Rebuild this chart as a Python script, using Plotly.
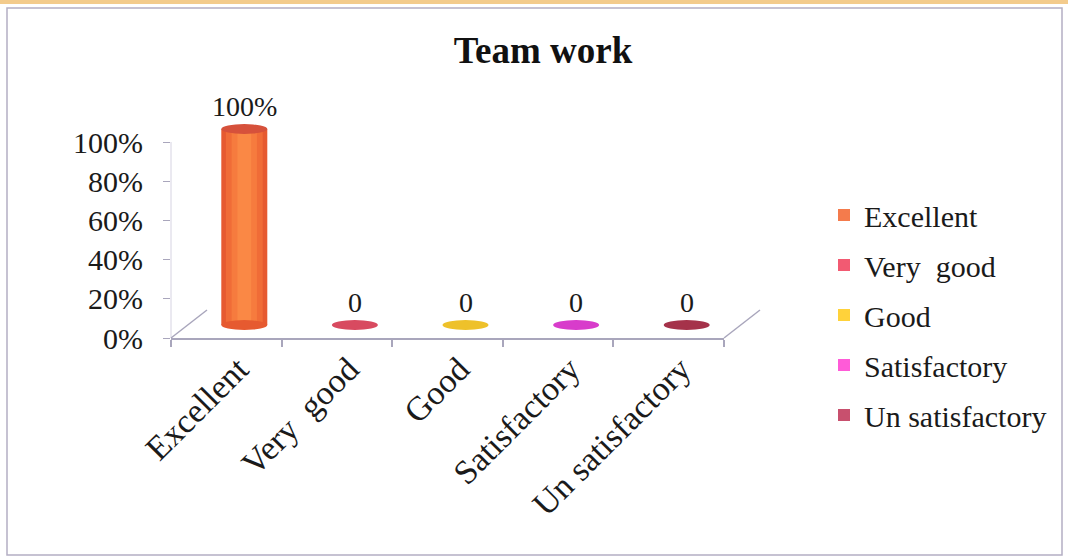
import plotly.graph_objects as go

# ---------------- data ----------------
categories = ["Excellent", "Very\u00a0 good", "Good", "Satisfactory", "Un satisfactory"]
values = [1.0, 0, 0, 0, 0]
value_labels = ["100%", "0", "0", "0", "0"]
y_ticks = [0, 0.2, 0.4, 0.6, 0.8, 1.0]
legend_colors = ["#F47B4C", "#F25A72", "#FFD23A", "#FF5BD8", "#C8506E"]
cap_colors = ["#D6513B", "#D84A60", "#EEC12A", "#D83CCB", "#A5324A"]
body_base = "#E65A30"
body_layers = [(0.80, "#F06C37"), (0.55, "#F67B3E"), (0.30, "#FA8845")]
title_text = "Team work"

# ---------------- geometry (pixels) ----------------
W, H = 1068, 557
X0, X1 = 171, 724          # front floor line
Y0, Y1 = 338, 100          # plot bottom (0%) and top
UNIT = 196                 # pixels per 100%
DX, DY = 18, 13            # half-depth offset for the cylinders
FDX, FDY = 36, 28          # full depth offset for floor diagonals
PAD = 0.06                 # extra range below zero on the depth axes (keeps ellipses unclipped)
BAR_W = 0.416
SERIF = "Liberation Serif"
AX = "#A9A6BC"

fig = go.Figure()

# invisible trace on the main (front) axes so they are drawn
fig.add_trace(go.Scatter(x=categories, y=values, mode="markers",
                         marker=dict(opacity=0), showlegend=False, hoverinfo="skip"))

# cylinder bodies: base layer
for i, cat in enumerate(categories):
    fig.add_trace(go.Bar(
        x=[cat], y=[values[i]], xaxis="x2", yaxis="y2", width=BAR_W,
        marker=dict(color=body_base if i == 0 else legend_colors[i], line=dict(width=0)),
        name=cat, showlegend=False, hoverinfo="skip",
    ))
# shading layers
for frac, col in body_layers:
    fig.add_trace(go.Bar(
        x=categories, y=values, xaxis="x2", yaxis="y2", width=BAR_W * frac,
        marker=dict(color=col, line=dict(width=0)), showlegend=False, hoverinfo="skip",
    ))
# legend entries
for i, cat in enumerate(categories):
    fig.add_trace(go.Bar(
        x=[cat], y=[None], xaxis="x2", yaxis="y2",
        marker=dict(color=legend_colors[i], line=dict(width=0)),
        name=cat, legendgroup=cat, showlegend=True, hoverinfo="skip",
    ))

yr = (Y0 - Y1) / UNIT
pad_px = PAD * UNIT
fig.update_layout(
    width=W, height=H,
    margin=dict(l=0, r=0, t=0, b=0, autoexpand=False),
    paper_bgcolor="white", plot_bgcolor="rgba(0,0,0,0)",
    barmode="overlay",
    showlegend=True,
    title=dict(text="<b>%s</b>" % title_text, x=543 / W, y=1 - 50 / H,
               xanchor="center", yanchor="middle",
               font=dict(family=SERIF, size=37, color="#111")),
    xaxis=dict(domain=[X0 / W, X1 / W], type="category", categoryorder="array",
               categoryarray=categories, range=[-0.5, 4.5], tickson="boundaries",
               ticks="outside", ticklen=7, tickcolor=AX, tickwidth=1.5,
               showline=True, linecolor=AX, linewidth=1.5, tickangle=-45,
               ticklabelstandoff=-4, ticklabelshift=12,
               tickfont=dict(family=SERIF, size=34, color="#1a1a1a"),
               showgrid=False, zeroline=False, anchor="y", fixedrange=True,
               automargin=False),
    yaxis=dict(domain=[1 - Y0 / H, 1 - Y1 / H], range=[0, yr], tickvals=y_ticks,
               tickformat=".0%", ticks="outside", ticklen=7, tickcolor=AX,
               showline=False, ticklabelstandoff=14,
               tickfont=dict(family=SERIF, size=30, color="#1a1a1a"),
               showgrid=False, zeroline=False, anchor="x", fixedrange=True,
               automargin=False),
    xaxis2=dict(domain=[(X0 + DX) / W, (X1 + DX) / W], type="category",
                categoryorder="array", categoryarray=categories,
                range=[-0.5, 4.5], visible=False, anchor="y2", automargin=False),
    yaxis2=dict(domain=[1 - (Y0 - DY + pad_px) / H, 1 - (Y1 - DY) / H], range=[-PAD, yr],
                visible=False, anchor="x2", automargin=False),
    legend=dict(x=824 / W, y=1 - 189 / H, xanchor="left", yanchor="top",
                font=dict(family=SERIF, size=30, color="#1a1a1a"),
                tracegroupgap=8, itemwidth=30, bgcolor="rgba(0,0,0,0)"),
)

shapes = []
# top band and border
shapes.append(dict(type="rect", xref="paper", yref="paper", x0=0, x1=1,
                   y0=1 - 4 / H, y1=1, line=dict(width=0), fillcolor="#F3CB8C", layer="below"))
shapes.append(dict(type="rect", xref="paper", yref="paper", x0=7 / W, x1=1062 / W,
                   y0=1 - 555 / H, y1=1 - 8 / H, line=dict(color="#B4AFC4", width=1.5),
                   fillcolor="rgba(0,0,0,0)", layer="below"))
# faint vertical axis line up to the top tick
shapes.append(dict(type="line", xref="paper", yref="y", x0=X0 / W, x1=X0 / W,
                   y0=y_ticks[0], y1=y_ticks[-1], line=dict(color="#D6D3E2", width=1)))
# floor diagonals
for xp in (X0, X1):
    shapes.append(dict(type="line", xref="paper", yref="paper",
                       x0=xp / W, y0=1 - Y0 / H, x1=(xp + FDX) / W, y1=1 - (Y0 - FDY) / H,
                       line=dict(color=AX, width=1.5)))
# cylinder bottoms and caps
half_px = BAR_W * (X1 - X0) / 5 / 2
for i, cat in enumerate(categories):
    if values[i] > 0:
        shapes.append(dict(type="circle", xref="x2", yref="y2",
                           xsizemode="pixel", ysizemode="pixel",
                           xanchor=i, yanchor=0, x0=-half_px, x1=half_px, y0=-5, y1=5,
                           fillcolor=body_base, line=dict(width=0), layer="above"))
    shapes.append(dict(type="circle", xref="x2", yref="y2",
                       xsizemode="pixel", ysizemode="pixel",
                       xanchor=i, yanchor=values[i], x0=-half_px, x1=half_px, y0=-5, y1=5,
                       fillcolor=cap_colors[i], line=dict(width=0), layer="above"))
fig.update_layout(shapes=shapes)

# value labels
for i, cat in enumerate(categories):
    fig.add_annotation(x=cat, y=values[i], xref="x2", yref="y2", text=value_labels[i],
                       showarrow=False, yshift=23, yanchor="middle",
                       font=dict(family=SERIF, size=28, color="#1a1a1a"))

fig.write_html("out.html", config={"displayModeBar": False},
               post_script="document.body.style.margin='0';document.body.style.overflow='hidden';")
